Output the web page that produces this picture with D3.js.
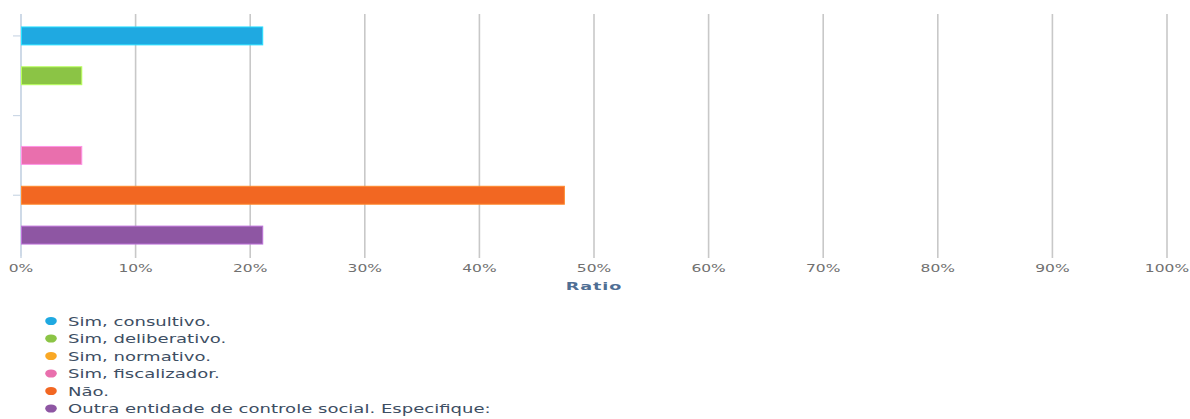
<!DOCTYPE html>
<html>
<head>
<meta charset="utf-8">
<script src="https://cdn.jsdelivr.net/npm/d3@7"></script>
<style>
  html, body { margin: 0; padding: 0; background: #fff; }
  svg { display: block; font-family: "DejaVu Sans", sans-serif; }
</style>
</head>
<body>
<svg id="chart" width="1190" height="419"></svg>
<script>
// Answer categories and their share of responses
const categories = [
  "Sim, consultivo.",
  "Sim, deliberativo.",
  "Sim, normativo.",
  "Sim, fiscalizador.",
  "Não.",
  "Outra entidade de controle social. Especifique:"
];
const ratios = [0.2105, 0.0526, 0, 0.0526, 0.4737, 0.2105];
const colors = ["#1fa9e1", "#8bc445", "#f9a825", "#e96fad", "#f26722", "#8e56a3"];
const xTicks = [0, 0.1, 0.2, 0.3, 0.4, 0.5, 0.6, 0.7, 0.8, 0.9, 1];
const axisTitle = "Ratio";

const svg = d3.select("#chart");
const SX = 1.55; // horizontal text stretch

const x = d3.scaleLinear().domain([0, 1]).range([21, 1167]);
const y = d3.scaleBand().domain(categories).range([16, 255])
  .paddingInner(0.55).paddingOuter(0.275);

// vertical gridlines
svg.append("g").selectAll("line").data(xTicks).join("line")
  .attr("x1", d => x(d)).attr("x2", d => x(d))
  .attr("y1", 14).attr("y2", 258)
  .attr("stroke", d => d === 0 ? "#ccd8e6" : "#c8c8c8")
  .attr("stroke-width", 1.6);

// category axis with a tick on every other category
const yAxis = d3.axisLeft(y)
  .tickValues(categories.filter((d, i) => i % 2 === 0))
  .tickFormat("")
  .tickSize(8)
  .tickSizeOuter(0);
const ya = svg.append("g").attr("transform", `translate(${x(0)},0)`).call(yAxis);
ya.select(".domain").attr("stroke", "#ccd8e6").attr("stroke-width", 1.6)
  .attr("d", `M0,14V256`);
ya.selectAll(".tick line").attr("stroke", "#ccd8e6").attr("stroke-width", 1.2);

// bars
svg.append("g").selectAll("rect").data(categories).join("rect")
  .attr("x", x(0) + 0.5)
  .attr("y", d => y(d))
  .attr("width", (d, i) => Math.max(0, x(ratios[i]) - x(0)))
  .attr("height", y.bandwidth())
  .attr("fill", (d, i) => colors[i])
  .attr("stroke", (d, i) => d3.color(colors[i]).brighter(0.8))
  .attr("stroke-width", 1)
  .attr("display", (d, i) => ratios[i] > 0 ? null : "none");

// x tick labels
svg.append("g").selectAll("text").data(xTicks).join("text")
  .attr("transform", d => `translate(${x(d)},272) scale(${SX},1)`)
  .attr("text-anchor", "middle")
  .attr("font-size", 10)
  .attr("fill", "#707070")
  .text(d3.format(".0%"));

// axis title
svg.append("text")
  .attr("transform", `translate(${x(0.5)},290) scale(1.6,1)`)
  .attr("text-anchor", "middle")
  .attr("font-size", 11)
  .attr("font-weight", "bold")
  .attr("letter-spacing", 0.6)
  .attr("fill", "#4f6e94")
  .text(axisTitle);

// legend
const legend = svg.append("g").selectAll("g").data(categories).join("g")
  .attr("transform", (d, i) => `translate(51,${321 + i * 17.5})`);
legend.append("ellipse")
  .attr("rx", 5.8).attr("ry", 4.1)
  .attr("fill", (d, i) => colors[i]);
legend.append("text")
  .attr("transform", `translate(17,4.5) scale(1.57,1)`)
  .attr("font-size", 11.5)
  .attr("fill", "#3d4e63")
  .text(d => d);
</script>
</body>
</html>
